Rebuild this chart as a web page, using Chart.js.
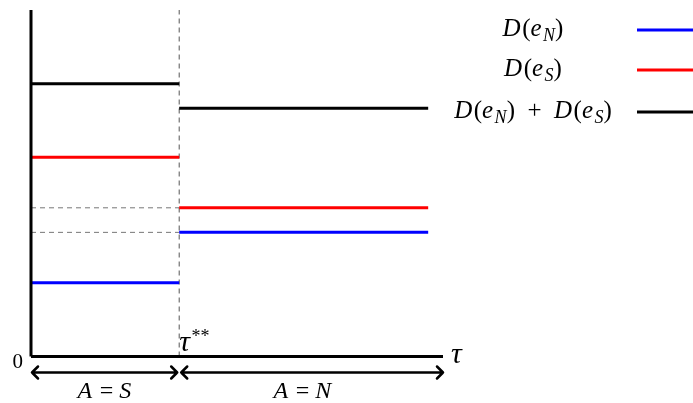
<!DOCTYPE html>
<html>
<head>
<meta charset="utf-8">
<script src="https://cdn.jsdelivr.net/npm/chart.js@4"></script>
<style>
body{margin:0;background:#fff}
canvas{display:block}
</style>
</head>
<body>
<canvas id="chart" width="693" height="403"></canvas>
<script>
// tau positions: start, tau**, end of the lines, end of the axis
const tauStart=0
const tauStar=1
const tauEnd=2.68
const axisEnd=2.78
const yTop=12.7

// values before tau** and after tau**
const dN=[2.7,4.55]
const dS=[7.3,5.45]
const dTotal=[10,9.1]

const legendLabels=[
[{t:"D",i:1},{t:"("},{t:"e",i:1},{t:"N",i:1,sub:1},{t:")"}],
[{t:"D",i:1},{t:"("},{t:"e",i:1},{t:"S",i:1,sub:1},{t:")"}],
[{t:"D",i:1},{t:"("},{t:"e",i:1},{t:"N",i:1,sub:1},{t:")"},{t:"  +  "},{t:"D",i:1},{t:"("},{t:"e",i:1},{t:"S",i:1,sub:1},{t:")"}]
]
const legendColors=["#0000ff","#ff0000","#000000"]

function step(v){
return [
{x:tauStart,y:v[0]},{x:tauStar,y:v[0]},
{x:tauStar,y:null},
{x:tauStar,y:v[1]},{x:tauEnd,y:v[1]}
]
}

function seg(data,color,width,dash,order){
return {data:data,borderColor:color,borderWidth:width,borderDash:dash||[],
pointRadius:0,fill:false,tension:0,spanGaps:false,order:order,clip:false,borderCapStyle:"butt"}
}

const SERIF='"Liberation Serif","DejaVu Serif",serif'

function runFont(r,size){
let s=r.size||(r.sub||r.sup?Math.round(size*0.7):size)
return (r.i?"italic ":"")+s+"px "+SERIF
}

function mathText(ctx,runs,x,y,size,align){
let w=0
runs.forEach(r=>{
ctx.font=runFont(r,size)
r.w=ctx.measureText(r.t).width+(r.i&&!r.sub?size*0.06:0)
w+=r.w
})
let cx=align=="center"?x-w/2:align=="right"?x-w:x
runs.forEach(r=>{
ctx.font=runFont(r,size)
ctx.fillText(r.t,cx,r.sup?y-size*0.36:r.sub?y+size*0.18:y)
cx+=r.w
})
}

function arrow(ctx,x1,x2,y){
let h=6
ctx.beginPath()
ctx.moveTo(x1,y);ctx.lineTo(x2,y)
ctx.moveTo(x1+h,y-h);ctx.lineTo(x1,y);ctx.lineTo(x1+h,y+h)
ctx.moveTo(x2-h,y-h);ctx.lineTo(x2,y);ctx.lineTo(x2-h,y+h)
ctx.stroke()
}

const extras={
id:"extras",
afterDraw(chart){
const ctx=chart.ctx
const xs=chart.scales.x
const ys=chart.scales.y
let x0=xs.getPixelForValue(tauStart)
let xm=xs.getPixelForValue(tauStar)
let xe=xs.getPixelForValue(axisEnd)
let y0=ys.getPixelForValue(0)
ctx.save()
ctx.fillStyle="#000"
ctx.strokeStyle="#000"
ctx.lineWidth=2.5
ctx.lineCap="round"
ctx.lineJoin="round"
let ay=y0+16
arrow(ctx,x0+1,xm-2,ay)
arrow(ctx,xm+2,xe,ay)
ctx.textBaseline="alphabetic"
mathText(ctx,[{t:"0"}],x0-8,y0+11,21,"right")
mathText(ctx,[{t:"τ",i:1,size:30}],xe+8,y0+6,25,"left")
mathText(ctx,[{t:"τ",i:1,size:30},{t:"**",sup:1}],xm,y0-6,25,"left")
mathText(ctx,[{t:"A",i:1},{t:" = "},{t:"S",i:1}],(x0+xm)/2,y0+41,24,"center")
mathText(ctx,[{t:"A",i:1},{t:" = "},{t:"N",i:1}],(xm+xe)/2-8,y0+41,24,"center")
let ly=[30,70,112]
legendLabels.forEach((runs,k)=>{
mathText(ctx,runs,533,ly[k]+6,25,"center")
ctx.strokeStyle=legendColors[k]
ctx.lineWidth=3
ctx.lineCap="butt"
ctx.beginPath()
ctx.moveTo(637,ly[k]);ctx.lineTo(693,ly[k])
ctx.stroke()
})
ctx.restore()
}
}

new Chart(document.getElementById("chart"),{
type:"line",
data:{datasets:[
seg([{x:tauStart,y:0},{x:axisEnd,y:0}],"#000",3,null,0),
seg([{x:tauStart,y:0},{x:tauStart,y:yTop}],"#000",3,null,0),
seg(step(dN),"#0000ff",3,null,1),
seg(step(dS),"#ff0000",3,null,1),
seg(step(dTotal),"#000000",3,null,1),
seg([{x:tauStar,y:0},{x:tauStar,y:yTop}],"#555",1,[5,4],2),
seg([{x:tauStart,y:dS[1]},{x:tauStar,y:dS[1]}],"#777",1,[5,4],2),
seg([{x:tauStart,y:dN[1]},{x:tauStar,y:dN[1]}],"#777",1,[5,4],2)
]},
options:{
responsive:false,
animation:false,
layout:{padding:{left:31,top:10,right:250,bottom:46.5}},
plugins:{legend:{display:false},tooltip:{enabled:false}},
scales:{
x:{type:"linear",min:0,max:axisEnd,display:false},
y:{type:"linear",min:0,max:yTop,display:false}
}
},
plugins:[extras]
})
</script>
</body>
</html>
